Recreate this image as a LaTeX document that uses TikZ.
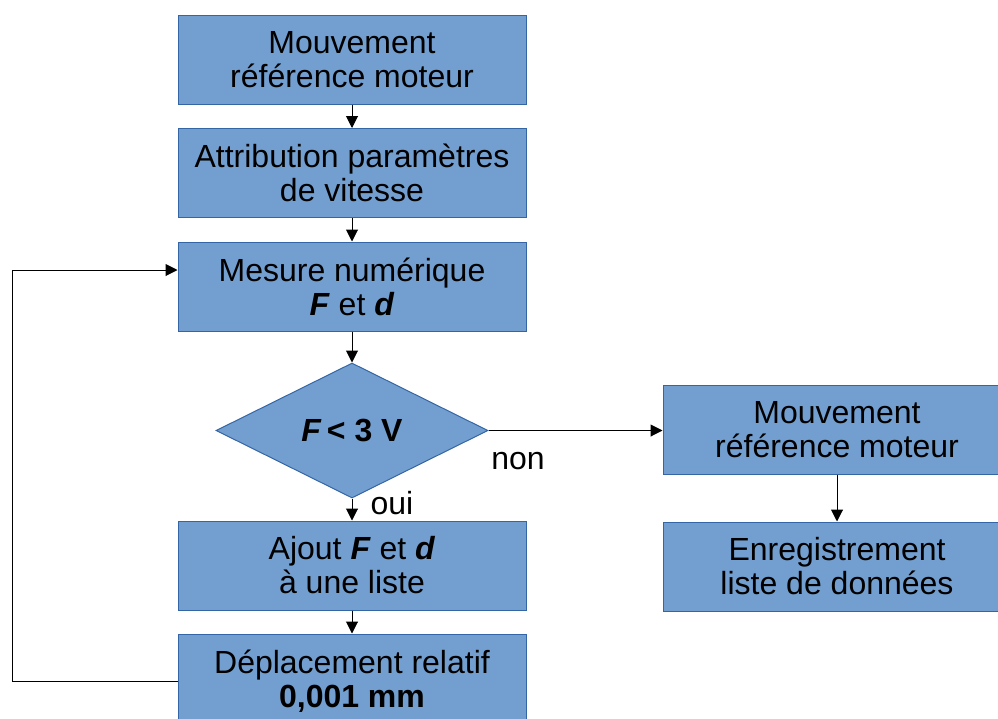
\documentclass[tikz,border=0pt]{standalone}
\usepackage{fontspec}
\setmainfont{Liberation Sans}
\usetikzlibrary{shapes.geometric,arrows.meta}
\definecolor{boxfill}{HTML}{729FCF}
\definecolor{boxline}{HTML}{3465A4}
\tikzset{
  box/.style={rectangle, draw=boxline, fill=boxfill, line width=0.75pt,
    minimum width=261pt, minimum height=66.75pt, inner sep=0pt, align=center,
    font=\fontsize{24}{25.5}\selectfont},
  dia/.style={diamond, draw=boxline, fill=boxfill, line width=0.75pt,
    minimum width=204pt, minimum height=101.25pt, inner sep=0pt,
    font=\fontsize{24}{25.5}\selectfont},
  lbl/.style={font=\fontsize{24}{25.5}\selectfont, inner sep=0pt},
  arr/.style={draw=black, line width=0.75pt, -{Triangle[length=9pt,width=9pt]}}
}
\begin{document}
\begin{tikzpicture}[x=0.75pt,y=-0.75pt]
\useasboundingbox (0,0) rectangle (998,718);
\clip (0,0) rectangle (998,718);
\node[box] (b1) at (352,59.5) {Mouvement\\référence moteur};
\node[box] (b2) at (352,173) {Attribution paramètres\\de vitesse};
\node[box] (b3) at (352,286.5) {Mesure numérique\\\textbf{\textit{F}} et \textbf{\textit{d}}};
\node[dia] (d) at (352,430.5) {\textbf{\textit{F}\,< 3 V}};
\node[box] (b5) at (352,565.5) {Ajout \textbf{\textit{F}} et \textbf{\textit{d}}\\à une liste};
\node[box, minimum height=71.25pt] (b6) at (352,681.5) {Déplacement relatif\\\textbf{0,001 mm}};
\node[box] (r1) at (837,429.5) {Mouvement\\référence moteur};
\node[box] (r2) at (837,566.5) {Enregistrement\\liste de données};
\node[lbl] (non) at (518,461) {non};
\node[lbl] (oui) at (392,503) {oui};
\draw[arr] (b1) -- (b2);
\draw[arr] (b2) -- (b3);
\draw[arr] (b3) -- (d);
\draw[arr] (d) -- (b5);
\draw[arr] (b5) -- (b6);
\draw[arr] (d.east) -- (r1.west |- d.east);
\draw[arr] (r1) -- (r2);
\coordinate (lp) at (12,270);
\draw[arr] (b6.west) -| (lp) -- (lp -| b3.west);
\end{tikzpicture}
\end{document}
